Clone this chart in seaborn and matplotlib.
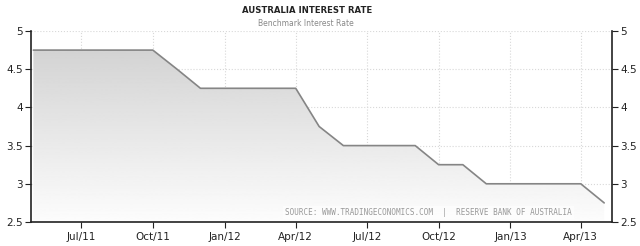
import numpy as np
import pandas as pd
import matplotlib
matplotlib.use("Agg")
import matplotlib.pyplot as plt
import matplotlib.dates as mdates
import seaborn as sns

months = ["2011-05-01", "2011-06-01", "2011-07-01", "2011-08-01", "2011-09-01",
          "2011-10-01", "2011-11-01", "2011-12-01", "2012-01-01", "2012-02-01",
          "2012-03-01", "2012-04-01", "2012-05-01", "2012-06-01", "2012-07-01",
          "2012-08-01", "2012-09-01", "2012-10-01", "2012-11-01", "2012-12-01",
          "2013-01-01", "2013-02-01", "2013-03-01", "2013-04-01", "2013-05-01"]
rates = [4.75, 4.75, 4.75, 4.75, 4.75,
         4.75, 4.50, 4.25, 4.25, 4.25,
         4.25, 4.25, 3.75, 3.50, 3.50,
         3.50, 3.50, 3.25, 3.25, 3.00,
         3.00, 3.00, 3.00, 3.00, 2.75]
tick_dates = ["2011-07-01", "2011-10-01", "2012-01-01", "2012-04-01",
              "2012-07-01", "2012-10-01", "2013-01-01", "2013-04-01"]
y_ticks = [2.5, 3, 3.5, 4, 4.5, 5]
title = "AUSTRALIA INTEREST RATE"
subtitle = "Benchmark Interest Rate"
source = "SOURCE: WWW.TRADINGECONOMICS.COM  |  RESERVE BANK OF AUSTRALIA"

sns.set_style("white")
plt.rcParams["font.family"] = ["DejaVu Sans"]

df = pd.DataFrame({"date": pd.to_datetime(months), "rate": rates})

fig = plt.figure(figsize=(6.4, 2.46), dpi=100)
ax = fig.add_axes([31/640, 1-222/246, (612-31)/640, (222-31)/246])

sns.lineplot(data=df, x="date", y="rate", ax=ax, color="#858585", linewidth=1.2)

xlim = (mdates.date2num(pd.Timestamp("2011-04-28")), mdates.date2num(pd.Timestamp("2013-05-11")))
ax.set_xlim(*xlim)
ax.set_ylim(2.5, 5)

# gradient fill under the line
poly = ax.fill_between(df["date"], df["rate"], 2.5, color="none", linewidth=0)
grad = np.linspace(0.81, 0.99, 256).reshape(-1, 1)
img = ax.imshow(grad, cmap="gray", vmin=0, vmax=1, aspect="auto",
                extent=[xlim[0], xlim[1], 2.5, 5], origin="upper", zorder=1)
path = poly.get_paths()[0]
img.set_clip_path(path, transform=ax.transData)
ax.set_xlim(*xlim)
ax.set_ylim(2.5, 5)

ax.set_xticks(mdates.date2num(pd.to_datetime(tick_dates)))
ax.xaxis.set_major_formatter(mdates.DateFormatter("%b/%y"))
ax.set_yticks(y_ticks)
ax.yaxis.set_major_formatter(matplotlib.ticker.FormatStrFormatter("%g"))
ax.tick_params(axis="both", labelsize=7.5, colors="#222222", length=4, width=0.8,
               left=True, right=True, labelright=True, bottom=True, direction="out", pad=2)
ax.tick_params(axis="x", pad=3)
ax.grid(True, color="#d8d8d8", linestyle=":", linewidth=0.8)
ax.set_axisbelow(True)
for s in ["left", "right", "bottom"]:
    ax.spines[s].set_visible(True)
    ax.spines[s].set_color("#222222")
    ax.spines[s].set_linewidth(1.2)
ax.spines["top"].set_visible(False)
ax.set_xlabel("")
ax.set_ylabel("")

fig.text(307/640, 1-10.5/246, title, ha="center", va="center", fontsize=6.1, fontweight="bold", color="#222222")
fig.text(306/640, 1-24/246, subtitle, ha="center", va="center", fontsize=5.5, color="#888888")
ax.text(0.931, 0.052, source, transform=ax.transAxes, ha="right", va="center",
        fontsize=5.5, family="DejaVu Sans Mono", color="#999999",
        bbox=dict(facecolor="white", edgecolor="none", alpha=0.6, pad=1.5))

fig.savefig("out.png", dpi=100)
